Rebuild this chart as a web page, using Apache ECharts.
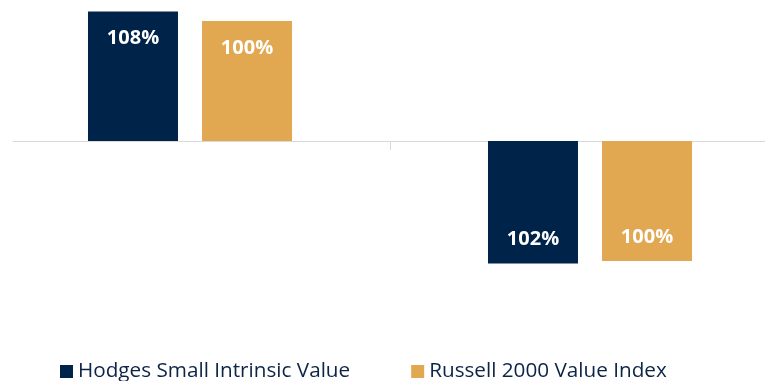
<!DOCTYPE html>
<html>
<head>
<meta charset="utf-8">
<script src="https://cdn.jsdelivr.net/npm/echarts@6/dist/echarts.min.js"></script>
<style>html,body{margin:0;padding:0;background:#fff;}#c{width:765px;height:381px;}</style>
</head>
<body>
<div id="c"></div>
<script>
var categories = ['Upside Capture', 'Downside Capture'];
var hodgesValues = [108, -102];
var russellValues = [100, -100];
var seriesNames = ['Hodges Small Intrinsic Value', 'Russell 2000 Value Index'];

var NAVY = '#002349';
var GOLD = '#E1A851';

function toData(arr) {
  return arr.map(function (v) {
    return {
      value: v,
      label: v < 0 ? { position: 'insideBottom', distance: 14 } : { position: 'insideTop', distance: 17 }
    };
  });
}

var labelStyle = {
  show: true,
  color: '#ffffff',
  fontFamily: 'Open Sans',
  fontWeight: 'bold',
  fontSize: 20,
  formatter: function (p) { return Math.abs(p.value) + '%'; }
};

var chart = echarts.init(document.getElementById('c'), null, { renderer: 'canvas' });
chart.setOption({
  animation: false,
  backgroundColor: '#ffffff',
  legend: {
    top: 361,
    left: 60,
    padding: 0,
    itemWidth: 13,
    itemHeight: 13,
    itemGap: 61,
    icon: 'rect',
    textStyle: { fontFamily: 'Open Sans', fontSize: 20.7, color: '#0B2447' },
    data: seriesNames
  },
  grid: [
    { left: -10, width: 800, top: 9, height: 324, outerBoundsMode: 'none', containLabel: false },
    { left: 13, right: 0, top: 9, height: 324, outerBoundsMode: 'none', containLabel: false }
  ],
  xAxis: [
    {
      type: 'category', gridIndex: 0, data: categories,
      axisLine: { show: false, onZero: true },
      axisTick: { show: true, length: 9, lineStyle: { color: '#d9d9d9' } },
      axisLabel: { show: false }
    },
    {
      type: 'value', gridIndex: 1, min: 0, max: 1,
      axisLine: { show: true, onZero: true, lineStyle: { color: '#d9d9d9', width: 1 } },
      axisTick: { show: false }, axisLabel: { show: false }, splitLine: { show: false }
    }
  ],
  yAxis: [
    { type: 'value', gridIndex: 0, min: -160, max: 110, show: false, splitLine: { show: false } },
    { type: 'value', gridIndex: 1, min: -160, max: 110, show: false, splitLine: { show: false } }
  ],
  series: [
    {
      name: seriesNames[0], type: 'bar', xAxisIndex: 0, yAxisIndex: 0,
      barWidth: 90, barGap: '26.7%',
      itemStyle: { color: NAVY },
      label: labelStyle,
      data: toData(hodgesValues)
    },
    {
      name: seriesNames[1], type: 'bar', xAxisIndex: 0, yAxisIndex: 0,
      barWidth: 90, barGap: '26.7%',
      itemStyle: { color: GOLD },
      label: labelStyle,
      data: toData(russellValues)
    }
  ]
});
</script>
</body>
</html>
